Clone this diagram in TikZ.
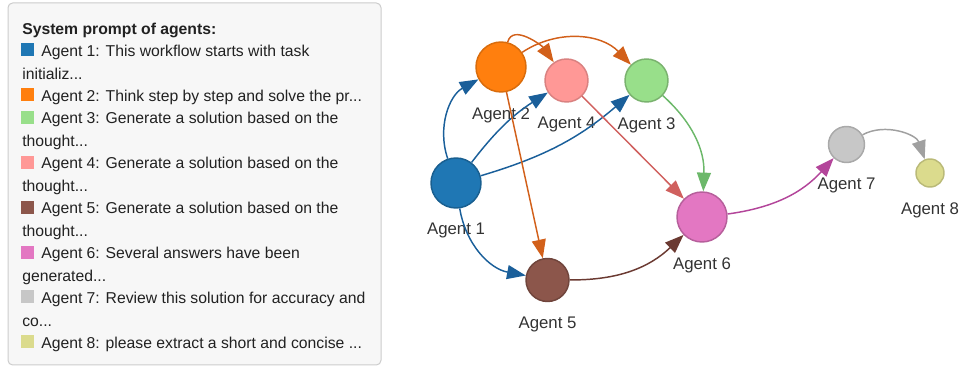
\documentclass[tikz,border=0pt]{standalone}
\usepackage{fontspec}
\setmainfont{Liberation Sans}
\usetikzlibrary{arrows.meta}

\definecolor{ag1}{HTML}{1F77B4}
\definecolor{ag2}{HTML}{FF7F0E}
\definecolor{ag3}{HTML}{98DF8A}
\definecolor{ag4}{HTML}{FF9896}
\definecolor{ag5}{HTML}{8C564B}
\definecolor{ag6}{HTML}{E377C2}
\definecolor{ag7}{HTML}{C7C7C7}
\definecolor{ag8}{HTML}{DBDB8D}
\definecolor{ln1}{HTML}{1A5F9A}
\definecolor{ln2}{HTML}{D2601A}
\definecolor{ln3}{HTML}{6CB86A}
\definecolor{ln4}{HTML}{D0605E}
\definecolor{ln5}{HTML}{6B3A32}
\definecolor{ln6}{HTML}{B3459A}
\definecolor{ln7}{HTML}{A0A0A0}
\definecolor{labelgray}{HTML}{333333}

\begin{document}
\begin{tikzpicture}[x=0.75pt,y=0.75pt,
  agent/.style={circle,inner sep=0pt,line width=1.1pt},
  every label/.style={font=\fontsize{12.6}{15}\selectfont,text=labelgray,inner sep=0pt},
  label distance=10.8pt,
  link/.style={line width=1.1pt,-{Triangle[length=14pt,width=10.5pt]}}]
  \useasboundingbox (0,0) rectangle (965,366);

  % legend
  \draw[rounded corners=3.5pt,fill=black!3,draw=black!20,line width=0.75pt] (8,363) rectangle (381,1);
  \node (legend) [anchor=north west,align=left,inner sep=0pt,text=black!87,
    font=\fontsize{11.8}{16.84}\selectfont] at (22,343.5) {\textbf{System prompt of agents:}\\
    \hspace*{14.25pt}Agent 1: This workflow starts with task\\
    initializ...\\
    \hspace*{14.25pt}Agent 2: Think step by step and solve the pr...\\
    \hspace*{14.25pt}Agent 3: Generate a solution based on the\\
    thought...\\
    \hspace*{14.25pt}Agent 4: Generate a solution based on the\\
    thought...\\
    \hspace*{14.25pt}Agent 5: Generate a solution based on the\\
    thought...\\
    \hspace*{14.25pt}Agent 6: Several answers have been\\
    generated...\\
    \hspace*{14.25pt}Agent 7: Review this solution for accuracy and\\
    co...\\
    \hspace*{14.25pt}Agent 8: please extract a short and concise ...};
  \foreach \c/\k in {ag1/0,ag2/2,ag3/3,ag4/5,ag5/7,ag6/9,ag7/11,ag8/13}
    \fill[\c] (21,{322.5-22.45*\k}) rectangle ++(13,-13);

  % agents
  \node (a1) [agent,fill=ag1,draw=ag1!80!black,minimum size=37.5pt,label=below:Agent 1] at (456,183) {};
  \node (a2) [agent,fill=ag2,draw=ag2!85!black,minimum size=37.5pt,label=below:Agent 2] at (501,299) {};
  \node (a4) [agent,fill=ag4,draw=ag4!85!black,minimum size=32.25pt,label=below:Agent 4] at (566.5,285.5) {};
  \node (a3) [agent,fill=ag3,draw=ag3!80!black,minimum size=32.25pt,label=below:Agent 3] at (646.5,285.5) {};
  \node (a5) [agent,fill=ag5,draw=ag5!80!black,minimum size=32.25pt,label=below:Agent 5] at (547.5,86) {};
  \node (a6) [agent,fill=ag6,draw=ag6!80!black,minimum size=37.5pt,label=below:Agent 6] at (702,149) {};
  \node (a7) [agent,fill=ag7,draw=ag7!85!black,minimum size=27pt,label=below:Agent 7] at (846.5,221.5) {};
  \node (a8) [agent,fill=ag8,draw=ag8!85!black,minimum size=21pt,label=below:Agent 8] at (930,193) {};

  % links
  \draw[link,ln1] (a1) to[bend left=40] (a2);
  \draw[link,ln1] (a1) to[bend left=10] (a4);
  \draw[link,ln1] (a1) to[bend right=12] (a3);
  \draw[link,ln1] (a1) to[bend right=35] (a5);
  \draw[link,ln2] (a2) to[out=75,in=125] (a4);
  \draw[link,ln2] (a2) to[bend left=40] (a3);
  \draw[link,ln2] (a2) -- (a5);
  \draw[link,ln4] (a4) -- (a6);
  \draw[link,ln3] (a3) to[bend left=25] (a6);
  \draw[link,ln5] (a5) to[bend right=22] (a6);
  \draw[link,ln6] (a6) to[bend right=20] (a7);
  \draw[link,ln7] (a7) to[bend left=50] (a8);
\end{tikzpicture}
\end{document}
